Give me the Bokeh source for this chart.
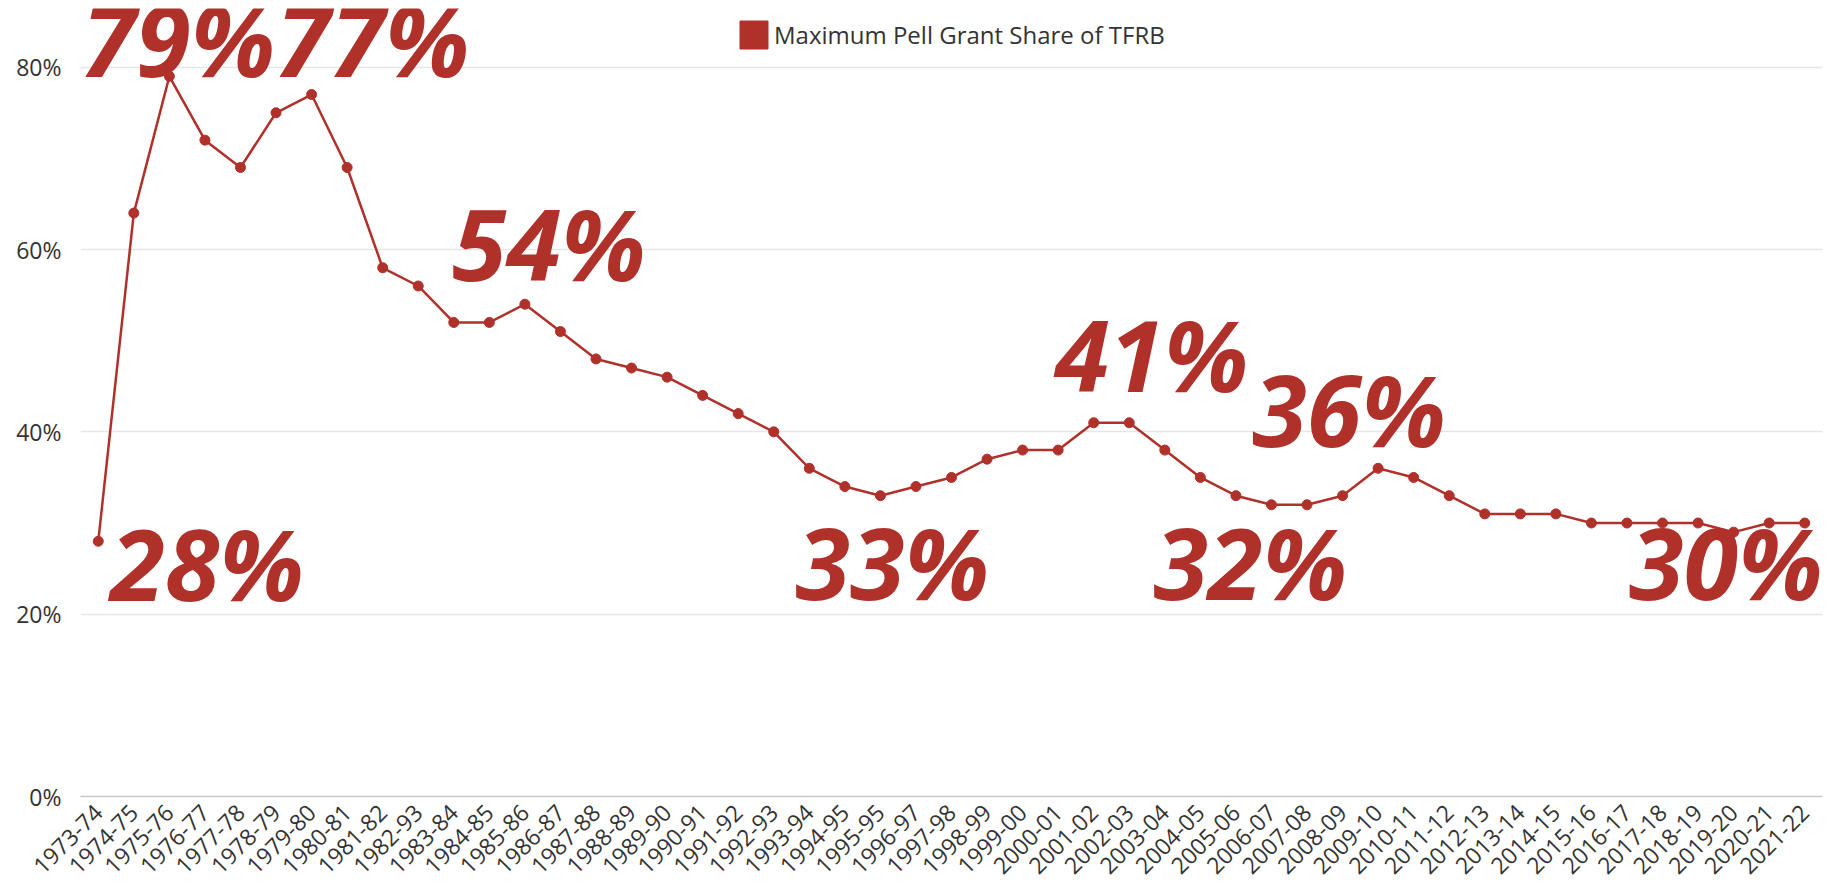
from bokeh.plotting import figure
from bokeh.models import (ColumnDataSource, FixedTicker, PrintfTickFormatter, Legend, LegendItem)
from bokeh.core.properties import value
from bokeh.embed import file_html
from bokeh.resources import INLINE
import math

years = ["1973-74", "1974-75", "1975-76", "1976-77", "1977-78", "1978-79", "1979-80",
         "1980-81", "1981-82", "1982-93", "1983-84", "1984-85", "1985-86", "1986-87",
         "1987-88", "1988-89", "1989-90", "1990-91", "1991-92", "1992-93", "1993-94",
         "1994-95", "1995-95", "1996-97", "1997-98", "1998-99", "1999-00", "2000-01",
         "2001-02", "2002-03", "2003-04", "2004-05", "2005-06", "2006-07", "2007-08",
         "2008-09", "2009-10", "2010-11", "2011-12", "2012-13", "2013-14", "2014-15",
         "2015-16", "2016-17", "2017-18", "2018-19", "2019-20", "2020-21", "2021-22"]
share = [28, 64, 79, 72, 69, 75, 77, 69, 58, 56, 52, 52, 54, 51, 48, 47, 46, 44, 42, 40,
         36, 34, 33, 34, 35, 37, 38, 38, 41, 41, 38, 35, 33, 32, 32, 33, 36, 35, 33, 31,
         31, 31, 30, 30, 30, 30, 29, 30, 30]
y_ticks = [0, 20, 40, 60, 80]
series_name = "Maximum Pell Grant Share of TFRB"

# callouts: (index of the point, x offset px, y offset px, align)
callouts = [(2, 9, -38, "center"), (6, 61, -56, "center"), (0, 12, 21, "left"),
            (12, 24, -62, "center"), (28, 58, -69, "center"), (36, -29, -60, "center"),
            (22, 12, 66, "center"), (33, -21, 57, "center"), (48, 18, 38, "right")]

RED = "#B0302A"
FONT = "Open Sans"

src = ColumnDataSource(dict(x=years, y=share))

p = figure(x_range=years, y_range=(0, 86.44), width=1832, height=884,
           output_backend="svg", toolbar_location=None,
           min_border_left=80, min_border_right=10, min_border_top=8, min_border_bottom=84)
p.outline_line_color = None
p.background_fill_color = "white"

p.line("x", "y", source=src, line_color=RED, line_width=2.5)
p.scatter("x", "y", source=src, size=10, fill_color=RED, line_color=RED)

for idx, dx, dy, align in callouts:
    s = ColumnDataSource(dict(x=[years[idx]], y=[share[idx]], t=[f"{share[idx]}%"]))
    p.text("x", "y", text="t", source=s, x_offset=dx, y_offset=dy,
           text_font=value(FONT), text_font_style="bold italic", text_font_size="99px",
           text_color=RED, text_align=align, text_baseline="alphabetic")

# legend
nan = float("nan")
sq = p.quad(left=[nan], right=[nan], top=[nan], bottom=[nan], fill_color=RED, line_color=RED)
legend = Legend(items=[LegendItem(label=series_name, renderers=[sq])],
                location=(656, 744), orientation="horizontal",
                glyph_width=35, glyph_height=35, label_standoff=3,
                padding=0, margin=0, border_line_color=None, background_fill_alpha=0,
                label_text_font=FONT, label_text_font_size="24px", label_text_color="#333333")
p.add_layout(legend, "center")

# axes
p.yaxis.ticker = FixedTicker(ticks=y_ticks)
p.yaxis.formatter = PrintfTickFormatter(format="%d%%")
p.yaxis.axis_line_color = None
p.yaxis.major_tick_line_color = None
p.yaxis.minor_tick_line_color = None
p.yaxis.major_label_standoff = 13
p.yaxis.major_label_text_font = FONT
p.yaxis.major_label_text_font_size = "23px"
p.yaxis.major_label_text_color = "#333333"

p.ygrid.ticker = FixedTicker(ticks=y_ticks)
p.ygrid.grid_line_color = "#e6e6e6"
p.ygrid.grid_line_width = 1.5
p.xgrid.grid_line_color = None

p.xaxis.axis_line_color = "#c8c8c8"
p.xaxis.axis_line_width = 1.5
p.xaxis.major_tick_line_color = None
p.xaxis.minor_tick_line_color = None
p.xaxis.major_label_orientation = math.pi / 4
p.xaxis.major_label_standoff = 6
p.xaxis.major_label_text_font = FONT
p.xaxis.major_label_text_font_size = "23px"
p.xaxis.major_label_text_color = "#333333"

open("out.html", "w").write(file_html(p, INLINE))
